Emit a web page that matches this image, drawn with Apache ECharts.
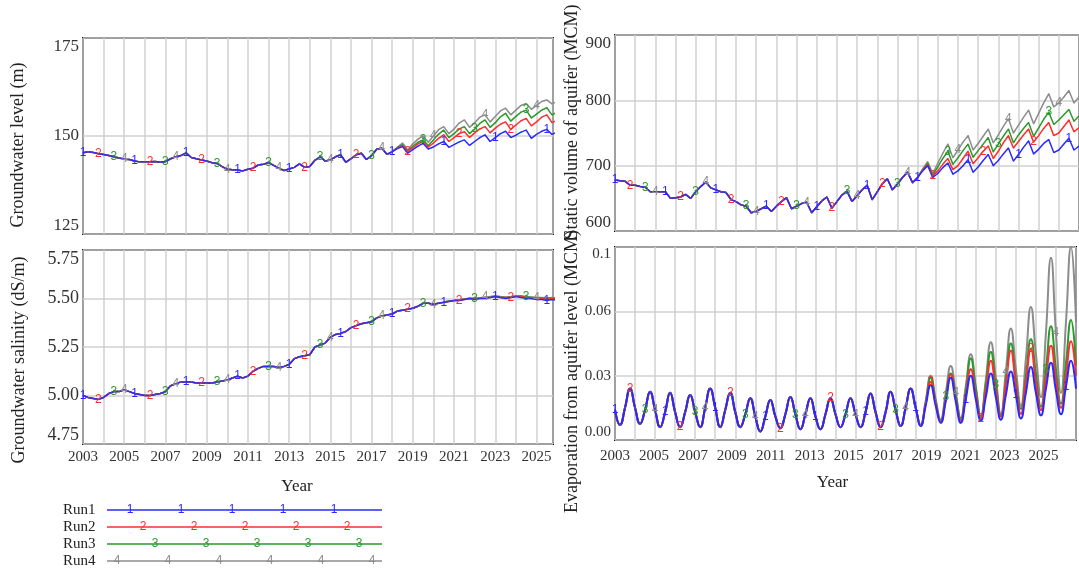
<!DOCTYPE html>
<html>
<head>
<meta charset="utf-8">
<style>
html,body{margin:0;padding:0;background:#ffffff;}
#chart{width:1079px;height:568px;}
</style>
<script src="https://cdn.jsdelivr.net/npm/echarts@6/dist/echarts.min.js"></script>
</head>
<body>
<div id="chart"></div>
<script>
// ---------------- DATA ----------------
const runNames = ['Run1', 'Run2', 'Run3', 'Run4'];
const runMarks = ['1', '2', '3', '4'];
const startYear = 2003;          // first time step
const stepsPerYear = 4;          // quarterly values
const xTickLabels = ['2003','2005','2007','2009','2011','2013','2015','2017','2019','2021','2023','2025'];

// Groundwater level (m): shared 2003.00-2018.00, then per-run 2018.25-2026.00
const levelBase = [
  145.7,146.0,145.8,145.5, 145.3,145.0,144.7,144.4, 144.1,144.0,143.6,143.4, 143.4,143.4,143.5,143.3,
  143.5,144.2,144.7,145.0, 145.7,144.5,144.2,143.9, 143.6,143.2,143.0,142.2, 141.5,141.4,141.3,141.1,
  141.5,141.8,142.6,142.8, 143.2,142.5,141.8,141.2, 141.6,142.0,142.9,142.0, 142.2,143.8,144.7,143.6,
  143.9,144.7,145.2,143.3, 144.2,145.2,145.6,144.0, 145.0,146.6,146.9,145.3, 146.0
];
const levelRun1 = [146.8,147.3,145.6, 146.5,147.4,148.1,146.7, 147.2,148.0,148.6,147.1, 147.8,148.5,149.0,147.6,
  148.6,149.6,150.3,148.6, 149.6,150.6,151.2,149.6, 150.2,151.0,151.5,149.4, 150.4,151.2,151.7,150.4, 151.0];
const levelRun2 = [146.9,147.6,146.0, 147.0,148.0,148.6,147.2, 148.2,149.4,150.3,148.6, 149.6,150.6,151.1,149.6,
  150.8,151.8,152.4,150.8, 152.0,153.0,153.6,151.7, 152.8,153.9,154.5,152.6, 153.6,154.8,155.4,153.4, 154.0];
const levelRun3 = [147.0,147.8,146.2, 147.4,148.4,149.0,147.6, 149.0,150.5,151.5,149.6, 150.6,151.8,152.4,150.6,
  151.8,153.2,154.1,152.2, 153.4,154.9,155.8,153.8, 155.0,156.1,156.6,154.6, 155.6,156.6,157.2,155.4, 156.0];
const levelRun4 = [147.2,148.2,146.5, 148.0,149.2,150.0,148.4, 150.0,151.6,152.4,150.6, 151.8,153.3,154.1,152.2,
  153.4,154.8,155.4,153.6, 155.0,156.4,157.1,155.4, 156.6,157.8,158.3,156.8, 157.8,158.8,159.2,158.2, 158.8];

// Static volume of aquifer (MCM)
const volumeBase = [
  678,677,676,670, 670,668,667,660, 660,660,660,650, 651,652,656,650,
  660,668,675,666, 663,660,659,648, 645,640,638,628, 630,634,638,630,
  638,645,651,634, 638,642,644,628, 637,646,652,635, 645,655,661,645,
  654,663,670,648, 660,672,680,663, 672,682,690,674, 682
];
const volumeRun1 = [692,700,682, 688,697,704,687, 692,700,709,690, 698,708,717,700,
  708,718,727,707, 717,728,738,718, 725,734,740,720, 724,733,742,724, 730];
const volumeRun2 = [693,702,684, 692,702,711,694, 700,711,722,703, 712,722,730,711,
  722,735,746,727, 737,747,756,736, 746,757,766,746, 750,760,770,752, 758];
const volumeRun3 = [694,704,686, 698,711,722,702, 712,723,733,713, 723,733,743,721,
  733,745,756,735, 747,757,766,745, 758,771,782,763, 770,778,786,768, 776];
const volumeRun4 = [695,706,688, 704,719,733,712, 724,736,746,724, 734,745,756,735,
  747,760,772,750, 762,774,785,764, 780,796,810,790, 796,805,815,796, 805];

// Groundwater salinity (dS/m)
const salinityBase = [
  5.00,4.99,4.985,4.98, 4.99,5.01,5.02,5.02, 5.03,5.02,5.01,5.005, 5.00,5.00,5.005,5.01,
  5.02,5.05,5.06,5.07, 5.07,5.07,5.065,5.065, 5.065,5.065,5.07,5.075, 5.08,5.09,5.10,5.09,
  5.10,5.125,5.14,5.15, 5.15,5.15,5.145,5.15, 5.16,5.19,5.20,5.205, 5.21,5.25,5.26,5.27,
  5.30,5.315,5.32,5.33, 5.35,5.36,5.37,5.375, 5.38,5.40,5.41,5.415, 5.42
];
const salinityRun1 = [5.435,5.44,5.445, 5.45,5.46,5.475,5.475, 5.47,5.475,5.48,5.485, 5.49,5.49,5.495,5.50,
  5.495,5.50,5.50,5.505, 5.51,5.505,5.50,5.505, 5.51,5.505,5.50,5.50, 5.495,5.495,5.49,5.495, 5.49];
const salinityRun2 = [5.435,5.44,5.445, 5.45,5.46,5.475,5.475, 5.47,5.475,5.48,5.485, 5.49,5.49,5.495,5.50,
  5.50,5.50,5.505,5.505, 5.51,5.505,5.505,5.505, 5.51,5.51,5.505,5.50, 5.50,5.50,5.495,5.50, 5.495];
const salinityRun3 = [5.435,5.44,5.445, 5.45,5.46,5.475,5.475, 5.47,5.475,5.48,5.487, 5.49,5.492,5.497,5.50,
  5.50,5.502,5.505,5.507, 5.512,5.508,5.505,5.508, 5.512,5.512,5.507,5.505, 5.503,5.502,5.50,5.502, 5.50];
const salinityRun4 = [5.435,5.44,5.445, 5.45,5.46,5.475,5.476, 5.47,5.476,5.482,5.488, 5.49,5.494,5.498,5.502,
  5.50,5.504,5.507,5.51, 5.514,5.51,5.507,5.51, 5.514,5.514,5.51,5.508, 5.506,5.505,5.503,5.505, 5.503];

// Evaporation from aquifer level (MCM)
const evapBase = [
  0.014,0.007,0.015,0.024, 0.015,0.0075,0.014,0.0225, 0.014,0.006,0.013,0.022, 0.013,0.006,0.013,0.021,
  0.013,0.006,0.015,0.024, 0.015,0.006,0.014,0.022, 0.013,0.006,0.012,0.0195, 0.011,0.004,0.011,0.0187,
  0.011,0.0055,0.012,0.020, 0.012,0.005,0.012,0.0195, 0.011,0.005,0.012,0.0195, 0.012,0.006,0.012,0.0195,
  0.012,0.006,0.013,0.0217, 0.013,0.006,0.013,0.0225, 0.014,0.0065,0.015,0.024, 0.015
];
const evapRun1 = [0.0065,0.016,0.0257, 0.016,0.008,0.018,0.029, 0.018,0.008,0.019,0.030, 0.019,0.009,0.020,0.031,
  0.020,0.0095,0.021,0.032, 0.021,0.010,0.022,0.034, 0.022,0.0115,0.024,0.036, 0.023,0.012,0.025,0.037, 0.024];
const evapRun2 = [0.0068,0.017,0.027, 0.017,0.0085,0.019,0.0306, 0.019,0.009,0.021,0.033, 0.021,0.010,0.023,0.037,
  0.023,0.011,0.026,0.0416, 0.026,0.0122,0.027,0.0424, 0.027,0.014,0.029,0.044, 0.028,0.015,0.030,0.046, 0.030];
const evapRun3 = [0.007,0.0175,0.029, 0.018,0.009,0.020,0.031, 0.021,0.010,0.023,0.038, 0.024,0.011,0.026,0.041,
  0.026,0.0115,0.028,0.045, 0.028,0.0146,0.030,0.047, 0.031,0.0156,0.033,0.053, 0.033,0.017,0.036,0.056, 0.035];
const evapRun4 = [0.007,0.018,0.030, 0.019,0.0095,0.022,0.0345, 0.022,0.010,0.025,0.040, 0.025,0.011,0.028,0.0456,
  0.029,0.012,0.032,0.052, 0.033,0.016,0.038,0.062, 0.040,0.020,0.050,0.085, 0.050,0.022,0.055,0.090, 0.055];

// ---------------- STYLE ----------------
const runColors = ['#2a2aff', '#ff2e2e', '#2a9a2a', '#8c8c8c'];
const markerOffsets = [0, 3, 6, 8];
const serif = '"Liberation Serif", "Times New Roman", serif';
const gridLineColor = '#d0d0d0';

function buildSeries(base, tails, axisIdx, opts) {
  return [3, 2, 1, 0].map(function (r) {
    const vals = base.concat(tails[r]);
    return {
      type: 'line',
      name: runNames[r],
      xAxisIndex: axisIdx,
      yAxisIndex: axisIdx,
      data: vals.map(function (v, i) { return [startYear + i / stepsPerYear, v]; }),
      smooth: opts.smooth || false,
      symbol: 'circle',
      symbolSize: 1,
      showSymbol: true,
      clip: true,
      lineStyle: { color: runColors[r], width: opts.width || 1.5 },
      itemStyle: { color: runColors[r] },
      label: {
        show: true,
        position: 'inside',
        color: runColors[r],
        fontSize: 12,
        fontFamily: '"Liberation Sans", Arial, sans-serif',
        formatter: function (p) { return (p.dataIndex % 10 === markerOffsets[r]) ? runMarks[r] : ''; }
      },
      emphasis: { disabled: true },
      silent: true
    };
  });
}

function gridBox(left, top, width, height) {
  return { left: left, top: top, width: width, height: height, show: true,
           borderColor: '#111', borderWidth: 2, backgroundColor: 'rgba(0,0,0,0)', containLabel: false };
}

function xDataAxis(gridIndex, max, showLabels) {
  return {
    type: 'value', gridIndex: gridIndex, min: 2003, max: max, interval: 1,
    axisLine: { show: false }, axisTick: { show: false },
    splitLine: { show: true, lineStyle: { color: gridLineColor, width: 1.5 } },
    axisLabel: showLabels ? {
      show: true, fontFamily: serif, fontSize: 15, color: '#333', margin: 6,
      showMinLabel: true, showMaxLabel: true,
      formatter: function (v) { return xTickLabels.indexOf(String(v)) >= 0 ? String(v) : ''; }
    } : { show: false },
    name: showLabels ? 'Year' : '',
    nameLocation: 'middle', nameGap: 34,
    nameTextStyle: { fontFamily: serif, fontSize: 17, color: '#222', padding: [0, 42, 0, 0] }
  };
}

function yAxis(gridIndex, min, max, interval, name, nameGap, namePad, labelSize, fmt) {
  return {
    type: 'value', gridIndex: gridIndex, min: min, max: max, interval: interval,
    axisLine: { show: false }, axisTick: { show: false },
    splitLine: { show: true, lineStyle: { color: gridLineColor, width: 1.5 } },
    axisLabel: {
      fontFamily: serif, fontSize: labelSize, color: '#333', margin: 4,
      verticalAlignMaxLabel: 'top', verticalAlignMinLabel: 'bottom',
      formatter: fmt
    },
    name: name, nameLocation: 'middle', nameGap: nameGap,
    nameTextStyle: { fontFamily: serif, fontSize: 18, color: '#222', padding: namePad }
  };
}

// Legend drawn as graphic elements
const legendY = [510, 527, 544, 561];
const legendMarkStart = [130, 143, 155, 117];
const legendMarkCount = [5, 5, 5, 6];
const legendElements = [];
runNames.forEach(function (nm, r) {
  legendElements.push({ type: 'text', x: 63, y: legendY[r],
    style: { text: nm, fill: '#222', fontFamily: serif, fontSize: 15, align: 'left', verticalAlign: 'middle' } });
  legendElements.push({ type: 'line', shape: { x1: 107, y1: legendY[r], x2: 382, y2: legendY[r] },
    style: { stroke: runColors[r], lineWidth: 1.5 } });
  for (let k = 0; k < legendMarkCount[r]; k++) {
    legendElements.push({ type: 'text', x: legendMarkStart[r] + 51 * k, y: legendY[r],
      style: { text: runMarks[r], fill: runColors[r], fontFamily: '"Liberation Sans", Arial, sans-serif',
               fontSize: 12, align: 'center', verticalAlign: 'middle' } });
  }
});

const labelAxisBR = {
  type: 'value', gridIndex: 3, min: 2003, max: 2026.67, interval: 1, position: 'bottom', offset: 0,
  axisLine: { show: false }, axisTick: { show: false }, splitLine: { show: false },
  axisLabel: {
    show: true, fontFamily: serif, fontSize: 15, color: '#333', margin: 9,
    formatter: function (v) { return xTickLabels.indexOf(String(v)) >= 0 ? String(v) : ''; }
  },
  name: 'Year', nameLocation: 'middle', nameGap: 34,
  nameTextStyle: { fontFamily: serif, fontSize: 17, color: '#222', padding: [0, 26, 0, 0] }
};

const chart = echarts.init(document.getElementById('chart'), null, { renderer: 'canvas' });
const option = {
  animation: false,
  backgroundColor: '#ffffff',
  textStyle: { fontFamily: serif },
  grid: [
    gridBox(83, 38, 470, 196),
    gridBox(83, 250, 470, 194),
    gridBox(615, 35, 481, 196),
    gridBox(615, 247, 481, 193)
  ],
  xAxis: [
    xDataAxis(0, 2025.8, false),
    xDataAxis(1, 2025.8, true),
    xDataAxis(2, 2026, false),
    xDataAxis(3, 2026, false),
    labelAxisBR
  ],
  yAxis: [
    yAxis(0, 125, 175, 25, 'Groundwater level (m)', 56, [0, 18, 0, 0], 17, function (v) { return String(v); }),
    yAxis(1, 4.75, 5.75, 0.25, 'Groundwater salinity (dS/m)', 55, [0, 26, 0, 0], 18, function (v) { return v.toFixed(2); }),
    yAxis(2, 600, 900, 100, 'Static volume of aquifer (MCM)', 34, [0, 0, 0, 22], 17, function (v) { return String(v); }),
    yAxis(3, 0, 0.09, 0.03, 'Evaporation from aquifer level (MCM)', 33, [0, 56, 0, 0], 15,
      function (v) { return Math.abs(v - 0.09) < 1e-6 ? '0.1' : v.toFixed(2); })
  ],
  series: [].concat(
    buildSeries(levelBase, [levelRun1, levelRun2, levelRun3, levelRun4], 0, {}),
    buildSeries(salinityBase, [salinityRun1, salinityRun2, salinityRun3, salinityRun4], 1, {}),
    buildSeries(volumeBase, [volumeRun1, volumeRun2, volumeRun3, volumeRun4], 2, {}),
    buildSeries(evapBase, [evapRun1, evapRun2, evapRun3, evapRun4], 3, { smooth: 0.5, width: 2 })
  ),
  graphic: { elements: legendElements }
};
chart.setOption(option);
</script>
</body>
</html>
